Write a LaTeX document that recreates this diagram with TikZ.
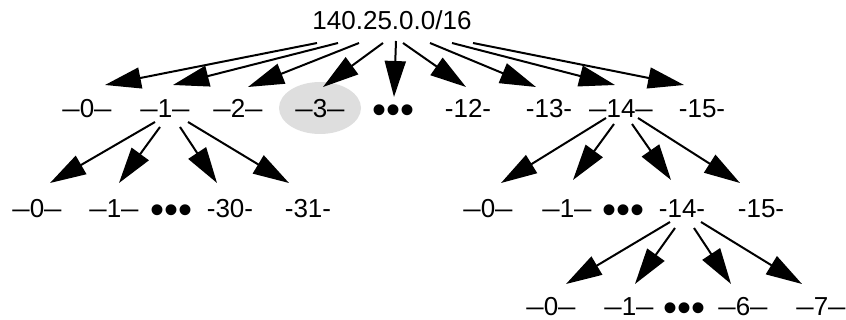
\documentclass[tikz,border=0pt]{standalone}
\usepackage{fontspec}
\setmainfont{Liberation Sans}
\usepackage{graphicx}
\usetikzlibrary{arrows.meta,shapes.geometric}

\definecolor{shade}{HTML}{DEDEDE}
\newcommand{\ld}{\scalebox{1.2}[1]{\textendash}}

\tikzset{
  lbl/.style={inner sep=0pt, text height=18.5pt, text depth=0pt, font=\fontsize{26}{28}\selectfont},
  more/.style={inner sep=0pt, text height=10pt, text depth=0pt, font=\fontsize{40}{40}\selectfont},
  arr/.style={line width=2pt, -{Triangle[length=36pt,width=21pt]}}
}

\begin{document}
\begin{tikzpicture}[x=1pt,y=-1pt]
\useasboundingbox (0,0) rectangle (846,320);

\node[lbl] (root) at (392,20) {140.25.0.0/16};

% first octet level
\node[lbl] (a0) at (87,108) {\ld0\ld};
\node[lbl] (a1) at (165,108) {\ld1\ld};
\node[lbl] (a2) at (238,108) {\ld2\ld};
\node[lbl, ellipse, fill=shade, minimum width=82pt, minimum height=52pt] (a3) at (320,108) {\ld3\ld};
\node[more] (adots) at (394,108) {\raisebox{-10.5pt}{•••}};
\node[lbl] (a12) at (468,108) {-12-};
\node[lbl] (a13) at (549,108) {-13-};
\node[lbl] (a14) at (621,108) {\ld14\ld};
\node[lbl] (a15) at (702,108) {-15-};

\draw[arr] ([shift={(-75,23)}]root.center) -- ([shift={(18,-23)}]a0.center);
\draw[arr] ([shift={(-54,23)}]root.center) -- ([shift={(8,-23)}]a1.center);
\draw[arr] ([shift={(-33,23)}]root.center) -- ([shift={(10,-21)}]a2.center);
\draw[arr] ([shift={(-9,23)}]root.center) -- ([shift={(3,-21)}]a3.center);
\draw[arr] ([shift={(4,21)}]root.center) -- ([shift={(0,-11)}]adots.center);
\draw[arr] ([shift={(11,23)}]root.center) -- ([shift={(-2,-21)}]a12.center);
\draw[arr] ([shift={(38,23)}]root.center) -- ([shift={(-13,-21)}]a13.center);
\draw[arr] ([shift={(60,23)}]root.center) -- ([shift={(-6,-23)}]a14.center);
\draw[arr] ([shift={(81,23)}]root.center) -- ([shift={(-18,-23)}]a15.center);

% below -1-
\node[lbl] (b0) at (37,208) {\ld0\ld};
\node[lbl] (b1) at (114,208) {\ld1\ld};
\node[more] (bdots) at (172,208) {\raisebox{-10.5pt}{•••}};
\node[lbl] (b30) at (230,208) {-30-};
\node[lbl] (b31) at (308,208) {-31-};

\draw[arr] ([shift={(-10,14)}]a1.center) -- ([shift={(13,-25)}]b0.center);
\draw[arr] ([shift={(-5,19)}]a1.center) -- ([shift={(5,-25)}]b1.center);
\draw[arr] ([shift={(15,19)}]a1.center) -- ([shift={(-13,-25)}]b30.center);
\draw[arr] ([shift={(23,14)}]a1.center) -- ([shift={(-19,-25)}]b31.center);

% below -14-
\node[lbl] (c0) at (488,208) {\ld0\ld};
\node[lbl] (c1) at (567,208) {\ld1\ld};
\node[more] (cdots) at (623,208) {\raisebox{-10.5pt}{•••}};
\node[lbl] (c14) at (682,208) {-14-};
\node[lbl] (c15) at (761,208) {-15-};

\draw[arr] ([shift={(-15,10)}]a14.center) -- ([shift={(13,-25)}]c0.center);
\draw[arr] ([shift={(-7,16)}]a14.center) -- ([shift={(6,-28)}]c1.center);
\draw[arr] ([shift={(11,16)}]a14.center) -- ([shift={(-11,-28)}]c14.center);
\draw[arr] ([shift={(17,10)}]a14.center) -- ([shift={(-21,-25)}]c15.center);

% below -14-.-14-
\node[lbl] (d0) at (551,306) {\ld0\ld};
\node[lbl] (d1) at (629,306) {\ld1\ld};
\node[more] (ddots) at (684,306) {\raisebox{-10.5pt}{•••}};
\node[lbl] (d6) at (743,306) {\ld6\ld};
\node[lbl] (d7) at (821,306) {\ld7\ld};

\draw[arr] ([shift={(-12,14)}]c14.center) -- ([shift={(15,-22)}]d0.center);
\draw[arr] ([shift={(-7,20)}]c14.center) -- ([shift={(6,-22)}]d1.center);
\draw[arr] ([shift={(12,20)}]c14.center) -- ([shift={(-12,-22)}]d6.center);
\draw[arr] ([shift={(19,14)}]c14.center) -- ([shift={(-19,-22)}]d7.center);

\end{tikzpicture}
\end{document}
